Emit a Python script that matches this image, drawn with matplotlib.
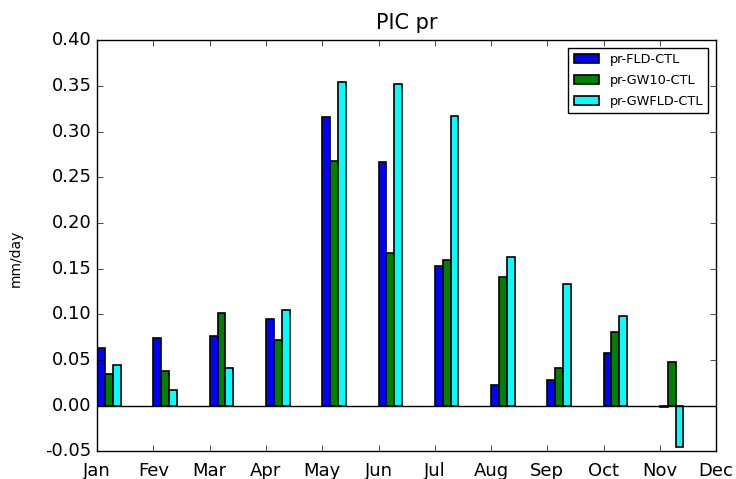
import matplotlib
matplotlib.use('Agg')
import matplotlib.pyplot as plt
import numpy as np

plt.style.use('classic')

months = ['Jan', 'Fev', 'Mar', 'Apr', 'May', 'Jun', 'Jul', 'Aug', 'Sep', 'Oct', 'Nov', 'Dec']
fld_ctl = [0.063, 0.074, 0.076, 0.095, 0.316, 0.267, 0.153, 0.022, 0.028, 0.057, -0.002]
gw10_ctl = [0.035, 0.038, 0.101, 0.072, 0.268, 0.167, 0.159, 0.141, 0.041, 0.080, 0.048]
gwfld_ctl = [0.044, 0.017, 0.041, 0.105, 0.354, 0.352, 0.317, 0.163, 0.133, 0.098, -0.045]

width = 0.14
x = np.arange(len(fld_ctl))

fig = plt.figure(figsize=(7.36, 4.79), dpi=100)
ax = fig.add_axes([0.132, 0.058, 0.841, 0.858])

# three runs side by side, left edge of each group on the month tick
ax.bar(x, fld_ctl, width, color='blue', label='pr-FLD-CTL', align='edge', linewidth=1.2)
ax.bar(x + width, gw10_ctl, width, color='green', label='pr-GW10-CTL', align='edge', linewidth=1.2)
ax.bar(x + 2 * width, gwfld_ctl, width, color='cyan', label='pr-GWFLD-CTL', align='edge', linewidth=1.2)
ax.axhline(0, color='black', linewidth=1)

ax.set_xlim(0, 11)
ax.set_ylim(-0.05, 0.40)
ax.set_xticks(np.arange(len(months)))
ax.set_xticklabels(months)
ax.set_yticks(np.arange(-0.05, 0.41, 0.05))
ax.yaxis.set_major_formatter(matplotlib.ticker.FormatStrFormatter('%.2f'))
ax.tick_params(labelsize=13)
ax.tick_params(axis='x', pad=8)
ax.set_ylabel('mm/day', fontsize=10)
ax.yaxis.set_label_coords(-0.12, 0.47)
ax.set_title('PIC pr', fontsize=15, y=1.01)
ax.legend(loc='upper right', fontsize=9.3, labelspacing=0.6, borderaxespad=0.6)

fig.savefig('out.png', dpi=100)
